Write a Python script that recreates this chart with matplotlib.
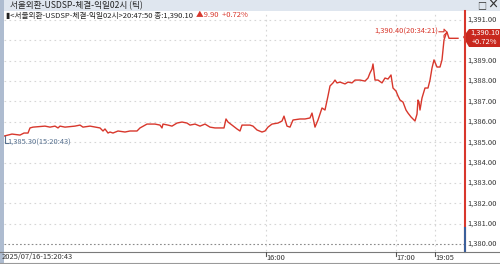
"""
서울외환 USDSP 틱 차트 재현
"""

import matplotlib.pyplot as plt
from matplotlib.patches import Rectangle, Polygon

plt.rcParams['font.family'] = ['Noto Sans CJK KR', 'DejaVu Sans']

# %% Data (tick index, price) - 10 per row
tick_idx = [4, 12, 20, 24, 28, 30, 33, 45, 50, 55,
            58, 60, 65, 75, 80, 83, 90, 100, 103, 105,
            108, 110, 113, 118, 125, 130, 137, 140, 147, 155,
            160, 162, 163, 168, 172, 177, 182, 187, 190, 195,
            200, 205, 210, 215, 220, 224, 226, 228, 232, 237,
            240, 242, 250, 253, 257, 262, 265, 268, 272, 278,
            282, 284, 287, 290, 293, 300, 305, 310, 312, 315,
            318, 322, 325, 328, 330, 333, 335, 337, 340, 345,
            348, 352, 355, 360, 365, 368, 370, 372, 373, 375,
            378, 382, 385, 388, 391, 393, 396, 398, 400, 403,
            406, 408, 411, 413, 415, 417, 418, 419, 420, 422,
            425, 428, 430, 432, 434, 437, 440, 442, 443, 444,
            446, 447, 449, 458]
price = [1385.30, 1385.40, 1385.35, 1385.45, 1385.45, 1385.70, 1385.74, 1385.79, 1385.74, 1385.79,
         1385.70, 1385.79, 1385.74, 1385.79, 1385.84, 1385.74, 1385.79, 1385.70, 1385.55, 1385.65,
         1385.45, 1385.50, 1385.45, 1385.55, 1385.50, 1385.55, 1385.55, 1385.70, 1385.89, 1385.89,
         1385.84, 1385.70, 1385.89, 1385.84, 1385.79, 1385.94, 1385.99, 1385.94, 1385.84, 1385.89,
         1385.79, 1385.89, 1385.74, 1385.70, 1385.70, 1385.70, 1386.14, 1385.99, 1385.84, 1385.65,
         1385.55, 1385.84, 1385.84, 1385.79, 1385.60, 1385.50, 1385.55, 1385.74, 1385.89, 1385.94,
         1386.04, 1386.28, 1385.79, 1385.74, 1386.09, 1386.14, 1386.14, 1386.19, 1386.43, 1385.74,
         1386.09, 1386.68, 1386.58, 1387.27, 1387.76, 1387.91, 1388.05, 1387.91, 1387.95, 1387.86,
         1387.95, 1387.91, 1388.05, 1388.05, 1388.00, 1388.15, 1388.40, 1388.59, 1388.84, 1388.05,
         1388.05, 1387.91, 1388.15, 1388.10, 1388.30, 1387.66, 1387.51, 1387.27, 1387.07, 1386.97,
         1386.58, 1386.43, 1386.24, 1386.14, 1386.04, 1386.38, 1387.07, 1386.97, 1386.58, 1387.17,
         1387.66, 1387.66, 1388.05, 1388.64, 1389.04, 1388.69, 1388.69, 1389.04, 1389.53, 1390.02,
         1390.31, 1390.40, 1390.10, 1390.10]

y_ticks = [1380, 1381, 1382, 1383, 1384, 1385, 1386, 1387, 1388, 1389, 1390, 1391]
x_tick_pos = [266, 396, 435]
x_tick_lab = ['16:00', '17:00', '19:05']

red = '#d8372c'
grid_c = '#d6d6d6'

# %% Figure
fig = plt.figure(figsize=(5, 2.64), dpi=100)
W, H = 500, 264

def fx(px):
    return px / W

def fy(py):
    return 1 - py / H

# title bar + frame
fig.patches.append(Rectangle((0, fy(11)), 1, 11 / H, transform=fig.transFigure,
                             facecolor='#dfe6ef', edgecolor='none'))
fig.patches.append(Rectangle((0, 0), fx(4), 1, transform=fig.transFigure,
                             facecolor='#aebcd0', edgecolor='none'))
fig.text(fx(10), fy(6), '서울외환-USDSP-체결-익일02시 (틱)', fontsize=6.2,
         color='#222222', va='center')
fig.text(fx(482), fy(5.5), '□', fontsize=6.5, color='#333333', va='center', ha='center')
fig.text(fx(493), fy(5.5), '×', fontsize=8, color='#333333', va='center', ha='center',
         fontweight='bold')

# main axes
ax = fig.add_axes([fx(4), fy(251), fx(461), (251 - 11) / H])
ax.plot(tick_idx, price, color=red, lw=1.0)
ax.set_xlim(4, 465)
ax.set_ylim(1379.66, 1391.44)

for v in y_ticks[1:]:
    ax.axhline(v, color=grid_c, lw=0.8, ls=(0, (1.5, 3)), zorder=0)
ax.axhline(1380, color='#8a8a8a', lw=0.8, ls=(0, (1.5, 2)), zorder=0)
for p in x_tick_pos:
    ax.axvline(p, color=grid_c, lw=0.8, ls=(0, (1.5, 3)), zorder=0)

ax.set_xticks([])
ax.set_yticks([])
for s in ax.spines.values():
    s.set_visible(False)

# legend line
lg = ax.text(6, 1391.22, '▮<서울외환-USDSP-체결-익일02시>20:47:50 종:1,390.10', fontsize=5.5,
             color='#222222', va='center')
ax.annotate('▲9.90  +0.72%', xy=(1, 0.5), xycoords=lg, xytext=(2.5, 0),
            textcoords='offset points', fontsize=5.5, color=red, va='center')

# high / low marks
ax.text(438, 1390.42, '1,390.40(20:34:21)', fontsize=5.4, color=red,
        va='center', ha='right')
ax.plot([439, 444, 444, 447, 444, 444], [1390.42, 1390.42, 1390.55, 1390.40,
        1390.25, 1390.15], color=red, lw=0.8)
ax.text(7, 1384.98, '1,385.30(15:20:43)', fontsize=5.4, color='#56708f',
        va='center', ha='left')
ax.plot([5, 5, 8], [1385.3, 1384.98, 1384.98], color='#56708f', lw=0.8)

# right price axis (1,390.00 sits under the price tag)
for v in y_ticks:
    if v == 1390:
        continue
    ax.text(1.006, (v - 1379.66) / (1391.44 - 1379.66), f'{v:,}.00',
            transform=ax.transAxes, fontsize=5.4, color='#333333', va='center',
            ha='left')

# current-price vertical line
fig.add_artist(plt.Line2D([fx(465), fx(465)], [fy(251), fy(11)],
                          color=red, lw=1.5))
fig.add_artist(plt.Line2D([fx(465), fx(465)], [fy(252), fy(228)],
                          color='#3b5f9a', lw=1.5))

# price tag
fig.patches.append(Polygon([[fx(463), fy(37)], [fx(469), fy(29)], [fx(500), fy(29)],
                            [fx(500), fy(47)], [fx(469), fy(47)]], closed=True,
                           transform=fig.transFigure, facecolor='#c8281e',
                           edgecolor='none'))
fig.text(fx(485), fy(33), '1,390.10', fontsize=5.4, color='white', ha='center',
         va='center')
fig.text(fx(485), fy(42.5), '+0.72%', fontsize=5.4, color='white', ha='center',
         va='center')

# bottom time axis
fig.add_artist(plt.Line2D([0, 1], [fy(251.5), fy(251.5)], color='#7a7a7a', lw=0.8))
fig.add_artist(plt.Line2D([0, 1], [fy(263), fy(263)], color='#9a9a9a', lw=0.8))
fig.text(fx(2), fy(257), '2025/07/16-15:20:43', fontsize=5.4, color='#333333',
         va='center')
for p, lab in zip(x_tick_pos, x_tick_lab):
    xf = fx(p)
    fig.add_artist(plt.Line2D([xf, xf], [fy(251.5), fy(256)], color='#555555', lw=0.8))
    fig.text(xf, fy(257.5), lab, fontsize=5.4, color='#333333', va='center')

fig.savefig('out.png', dpi=100)
